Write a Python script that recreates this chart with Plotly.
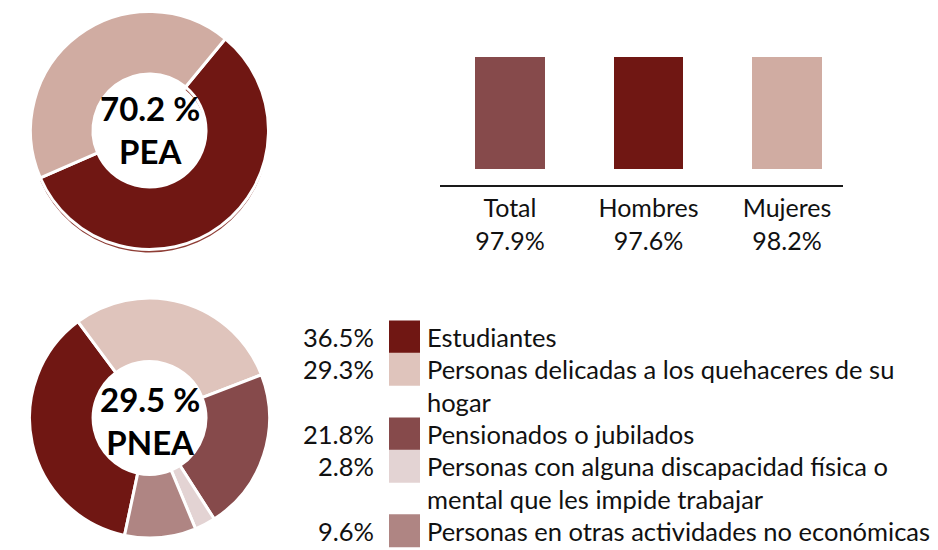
import plotly.graph_objects as go

W, H = 938, 550

# PEA donut: share of the economically active population by sex
pea_total = 70.2
pea_labels = ["Hombres", "Mujeres"]
pea_shares = [57.5, 42.5]

# Bars: rate per group
bar_categories = ["Total", "Hombres", "Mujeres"]
bar_values = [97.9, 97.6, 98.2]

# PNEA donut: composition of the non-active population
pnea_total = 29.5
pnea_labels = [
    "Estudiantes",
    "Personas delicadas a los quehaceres de su<br>hogar",
    "Pensionados o jubilados",
    "Personas con alguna discapacidad física o<br>mental que les impide trabajar",
    "Personas en otras actividades no económicas",
]
pnea_values = [36.5, 29.3, 21.8, 2.8, 9.6]

DARK = "#701713"
MID = "#864A4B"
ROSE = "#D0ACA2"
pea_colors = [DARK, ROSE]
bar_colors = [MID, DARK, ROSE]
pnea_colors = [DARK, "#DFC4BC", MID, "#E3D3D3", "#AF8583"]

FONT = "Lato"
TXT = "#111111"


def px_x(x):
    return x / W


def px_y(y):
    return 1 - y / H


def square_domain(cx, cy, r):
    return dict(x=[px_x(cx - r), px_x(cx + r)], y=[px_y(cy + r), px_y(cy - r)])


fig = go.Figure()

# PEA donut, with a thin lower rim for depth
pea_c = (149.5, 130.5, 119)
fig.add_trace(go.Pie(
    labels=pea_labels, values=pea_shares, sort=False, direction="clockwise",
    rotation=39.6, hole=0.475,
    domain=square_domain(pea_c[0], pea_c[1] + 3, pea_c[2]),
    marker=dict(colors=["#8E3D35", "rgba(0,0,0,0)"], line=dict(width=0)),
    textinfo="none", hoverinfo="skip", showlegend=False,
))
fig.add_trace(go.Pie(
    labels=pea_labels, values=pea_shares, sort=False, direction="clockwise",
    rotation=39.6, hole=0.475,
    domain=square_domain(*pea_c),
    marker=dict(colors=pea_colors, line=dict(color="white", width=3)),
    textinfo="none", showlegend=False,
))

# PNEA donut
pnea_c = (149.5, 418, 120)
fig.add_trace(go.Pie(
    labels=pnea_labels, values=pnea_values, sort=False, direction="clockwise",
    rotation=192, hole=0.47,
    domain=square_domain(*pnea_c),
    marker=dict(colors=pnea_colors, line=dict(color="white", width=3)),
    textinfo="none", showlegend=False,
))

# Bars
fig.add_trace(go.Bar(
    x=list(range(len(bar_categories))), y=bar_values, width=0.505,
    marker=dict(color=bar_colors, line=dict(width=0)),
    showlegend=False, hovertext=bar_categories,
))

annotations = []
# centre labels of the donuts
annotations.append(dict(
    x=px_x(pea_c[0]), y=px_y(129), xref="paper", yref="paper",
    text=f"<b>{pea_total:.1f} %<br>PEA</b>", showarrow=False,
    font=dict(family=FONT, size=33, color="black"), xanchor="center", yanchor="middle",
))
annotations.append(dict(
    x=px_x(pnea_c[0]), y=px_y(420), xref="paper", yref="paper",
    text=f"<b>{pnea_total:.1f} %<br>PNEA</b>", showarrow=False,
    font=dict(family=FONT, size=33, color="black"), xanchor="center", yanchor="middle",
))

# PNEA key: percentage, swatch and label per category
shapes = []
line_pitch = 32.3
lines_before = 0
for lab, val, col in zip(pnea_labels, pnea_values, pnea_colors):
    n_lines = lab.count("<br>") + 1
    cy = 337 + line_pitch * lines_before
    shapes.append(dict(
        type="rect", xref="paper", yref="paper",
        x0=px_x(389), x1=px_x(420), y0=px_y(cy + 16.5), y1=px_y(cy - 16.5),
        fillcolor=col, line=dict(width=0),
    ))
    annotations.append(dict(
        x=px_x(376), y=px_y(cy), xref="paper", yref="paper",
        text=f"{val:.1f}%", showarrow=False, xanchor="right", yanchor="middle",
        font=dict(family=FONT, size=25.5, color=TXT),
    ))
    annotations.append(dict(
        x=px_x(425), y=px_y(cy + (n_lines - 1) * line_pitch / 2), xref="paper", yref="paper",
        text=lab, showarrow=False, xanchor="left", yanchor="middle", align="left",
        font=dict(family=FONT, size=25.5, color=TXT),
    ))
    lines_before += n_lines

fig.update_layout(
    width=W, height=H,
    margin=dict(l=0, r=0, t=0, b=0),
    paper_bgcolor="white", plot_bgcolor="white",
    font=dict(family=FONT, color=TXT),
    annotations=annotations, shapes=shapes,
    xaxis=dict(
        domain=[px_x(440), px_x(843)], range=[-0.505, 2.404],
        tickmode="array", tickvals=list(range(len(bar_categories))),
        ticktext=[f"{c}<br>{v:.1f}%" for c, v in zip(bar_categories, bar_values)],
        tickfont=dict(family=FONT, size=25, color=TXT),
        showline=True, linecolor="#1a1a1a", linewidth=2,
        showgrid=False, zeroline=False, ticks="",
    ),
    yaxis=dict(
        domain=[px_y(185), px_y(50)], range=[-14, 104.1],
        visible=False, showgrid=False, zeroline=False,
    ),
    bargap=0,
)

fig.write_html("out.html")
